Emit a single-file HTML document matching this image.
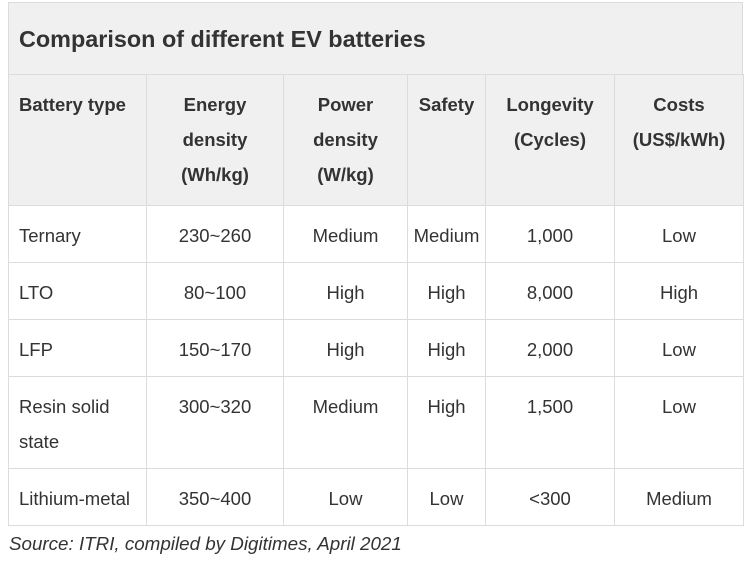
<!DOCTYPE html>
<html><head><meta charset="utf-8"><style>
body{margin:0;width:750px;height:566px;background:#fff;font-family:"Liberation Sans",Arial,sans-serif;color:#333;position:relative;overflow:hidden}
.c{position:absolute;box-sizing:border-box;border:1px solid #dcdcdc;font-size:18.5px}
.h{background:#f0f0f0;font-weight:bold;color:#333}
.t{position:absolute;left:0;right:0;text-align:center;line-height:35px}
.l{text-align:left;left:10px}
</style></head><body>
<div class="c h" style="left:8px;top:2px;width:735px;height:73px;font-size:23.4px"><div class="t l" style="top:19px">Comparison of different EV batteries</div></div>
<div id="tb"></div>
<div style="position:absolute;left:9px;top:533px;font-size:18.8px;font-style:italic;color:#333">Source: ITRI, compiled by Digitimes, April 2021</div>
<script>
const xs=[8,146,283,407,485,614,743];
const ys=[74,205,262,319,376,468,525];
const headers=[["Battery type"],["Energy","density","(Wh/kg)"],["Power","density","(W/kg)"],["Safety"],["Longevity","(Cycles)"],["Costs","(US$/kWh)"]];
const rows=[
[["Ternary"],["230~260"],["Medium"],["Medium"],["1,000"],["Low"]],
[["LTO"],["80~100"],["High"],["High"],["8,000"],["High"]],
[["LFP"],["150~170"],["High"],["High"],["2,000"],["Low"]],
[["Resin solid","state"],["300~320"],["Medium"],["High"],["1,500"],["Low"]],
[["Lithium-metal"],["350~400"],["Low"],["Low"],["<300"],["Medium"]]];
const tb=document.getElementById('tb');
const all=[headers].concat(rows);
all.forEach((r,ri)=>{r.forEach((lines,ci)=>{
 const d=document.createElement('div');
 d.className='c'+(ri==0?' h':'');
 
 
 d.style.left=xs[ci]+'px';d.style.top=ys[ri]+'px';
 d.style.width=(xs[ci+1]-xs[ci]+1)+'px';d.style.height=(ys[ri+1]-ys[ri]+1)+'px';
 lines.forEach((s,i)=>{const t=document.createElement('div');t.className='t'+(ci==0?' l':'');t.style.top=(12+i*35)+'px';t.textContent=s;d.appendChild(t);});
 tb.appendChild(d);
});});
</script>
</body></html>
